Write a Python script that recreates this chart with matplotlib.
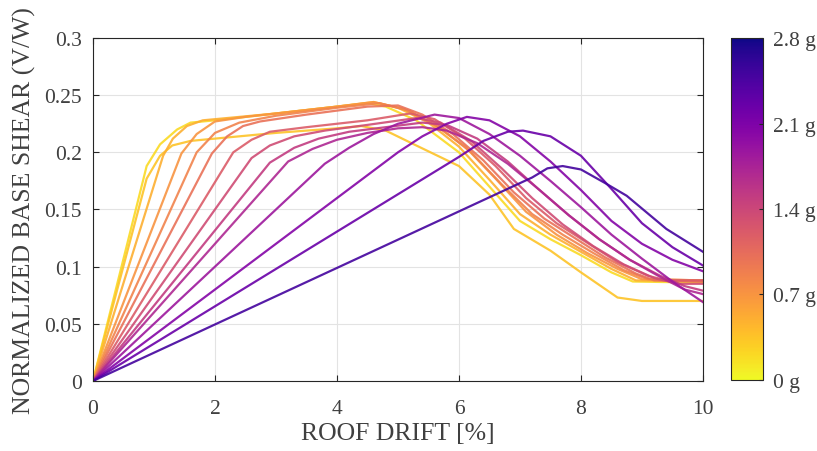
import matplotlib

matplotlib.use("Agg")
import matplotlib.pyplot as plt
from matplotlib import cm
from matplotlib.colors import Normalize

plt.rcParams["font.family"] = ["Liberation Serif", "DejaVu Serif"]

TEXT = "#404040"

# PGA of each curve [g] (sets the line colour)
pga = [0.2, 0.35, 0.5, 0.7, 0.85, 1.0, 1.2, 1.35, 1.5, 1.7, 1.85, 2.05, 2.25, 2.5]

# roof drift [%] / normalized base shear, one pair per curve
drift_00 = [0, 0.88, 1.1, 1.38, 1.6, 2.0, 3.0, 4.0, 4.5, 4.8, 5.3, 6.0, 6.5, 7.0, 7.5, 8.0, 8.5, 8.85, 10]
shear_00 = [0, 0.188, 0.207, 0.220, 0.226, 0.228, 0.234, 0.240, 0.243, 0.240, 0.228, 0.200, 0.170, 0.140, 0.124, 0.110, 0.095, 0.087, 0.086]
drift_02 = [0, 0.88, 1.1, 1.3, 1.6, 2.0, 3.0, 4.0, 4.4, 4.8, 5.3, 6.0, 6.5, 6.9, 7.5, 8.0, 8.6, 9.0, 10]
shear_02 = [0, 0.177, 0.197, 0.206, 0.210, 0.212, 0.217, 0.221, 0.223, 0.219, 0.206, 0.188, 0.163, 0.133, 0.114, 0.095, 0.073, 0.070, 0.070]
drift_04 = [0, 1.15, 1.31, 1.54, 1.8, 3.0, 4.0, 4.6, 5.0, 5.5, 6.0, 6.5, 7.0, 7.5, 8.0, 8.5, 8.9, 10]
shear_04 = [0, 0.197, 0.212, 0.223, 0.228, 0.234, 0.240, 0.244, 0.239, 0.226, 0.205, 0.176, 0.146, 0.128, 0.113, 0.098, 0.088, 0.087]
drift_06 = [0, 1.45, 1.7, 2.0, 2.5, 3.0, 4.0, 4.6, 5.1, 5.6, 6.1, 6.6, 7.1, 7.6, 8.1, 8.6, 9.0, 10]
shear_06 = [0, 0.199, 0.216, 0.227, 0.231, 0.234, 0.240, 0.244, 0.238, 0.224, 0.205, 0.177, 0.148, 0.128, 0.112, 0.098, 0.089, 0.088]
drift_08 = [0, 1.7, 2.0, 2.4, 3.0, 4.0, 4.7, 5.2, 5.7, 6.2, 6.7, 7.2, 7.7, 8.2, 8.7, 9.1, 10]
shear_08 = [0, 0.200, 0.217, 0.226, 0.232, 0.239, 0.243, 0.236, 0.221, 0.200, 0.172, 0.146, 0.128, 0.112, 0.097, 0.089, 0.088]
drift_10 = [0, 1.95, 2.2, 2.46, 2.74, 3.5, 4.5, 5.0, 5.4, 5.9, 6.4, 6.9, 7.4, 7.9, 8.4, 8.9, 9.2, 10]
shear_10 = [0, 0.199, 0.214, 0.223, 0.227, 0.233, 0.240, 0.241, 0.233, 0.216, 0.193, 0.165, 0.142, 0.125, 0.108, 0.094, 0.088, 0.087]
drift_12 = [0, 2.3, 2.6, 2.9, 3.5, 4.5, 5.2, 5.6, 6.1, 6.6, 7.1, 7.6, 8.1, 8.6, 9.1, 9.4, 10]
shear_12 = [0, 0.200, 0.211, 0.218, 0.222, 0.228, 0.234, 0.229, 0.212, 0.188, 0.160, 0.138, 0.121, 0.104, 0.092, 0.088, 0.088]
drift_14 = [0, 2.6, 2.9, 3.3, 3.8, 4.5, 5.3, 5.7, 6.2, 6.7, 7.2, 7.7, 8.2, 8.7, 9.2, 9.6, 10]
shear_14 = [0, 0.195, 0.206, 0.214, 0.219, 0.224, 0.230, 0.226, 0.210, 0.186, 0.160, 0.137, 0.118, 0.102, 0.090, 0.085, 0.085]
drift_16 = [0, 2.9, 3.3, 3.7, 4.2, 4.8, 5.4, 5.8, 6.3, 6.8, 7.3, 7.8, 8.3, 8.8, 9.3, 9.7, 10]
shear_16 = [0, 0.191, 0.204, 0.212, 0.218, 0.222, 0.226, 0.224, 0.212, 0.192, 0.168, 0.145, 0.124, 0.106, 0.092, 0.083, 0.079]
drift_18 = [0, 3.2, 3.6, 4.0, 4.5, 5.0, 5.4, 5.8, 6.3, 6.8, 7.3, 7.8, 8.3, 8.8, 9.3, 9.7, 10]
shear_18 = [0, 0.192, 0.203, 0.211, 0.217, 0.221, 0.222, 0.219, 0.208, 0.190, 0.168, 0.145, 0.124, 0.106, 0.091, 0.080, 0.076]
drift_20 = [0, 3.8, 4.2, 4.6, 5.0, 5.6, 6.0, 6.5, 7.0, 7.5, 8.0, 8.5, 9.0, 9.5, 10]
shear_20 = [0, 0.190, 0.204, 0.216, 0.225, 0.233, 0.230, 0.216, 0.197, 0.175, 0.152, 0.128, 0.107, 0.087, 0.069]
drift_22 = [0, 5.0, 5.4, 5.8, 6.13, 6.5, 7.0, 7.5, 8.0, 8.5, 9.0, 9.5, 10]
shear_22 = [0, 0.200, 0.214, 0.225, 0.231, 0.228, 0.214, 0.192, 0.167, 0.140, 0.120, 0.106, 0.096]
drift_24 = [0, 6.0, 6.4, 6.8, 7.05, 7.5, 8.0, 8.5, 9.0, 9.5, 10]
shear_24 = [0, 0.196, 0.210, 0.218, 0.219, 0.214, 0.197, 0.168, 0.138, 0.117, 0.101]
drift_26 = [0, 7.2, 7.45, 7.7, 8.0, 8.4, 8.75, 9.4, 10]
shear_26 = [0, 0.178, 0.186, 0.188, 0.185, 0.173, 0.162, 0.133, 0.113]

drifts = [drift_00, drift_02, drift_04, drift_06, drift_08, drift_10, drift_12,
          drift_14, drift_16, drift_18, drift_20, drift_22, drift_24, drift_26]
shears = [shear_00, shear_02, shear_04, shear_06, shear_08, shear_10, shear_12,
          shear_14, shear_16, shear_18, shear_20, shear_22, shear_24, shear_26]

cbar_ticks = [0, 0.7, 1.4, 2.1, 2.8]
cbar_labels = ["0 g", "0.7 g", "1.4 g", "2.1 g", "2.8 g"]

cmap = plt.get_cmap("plasma_r")
norm = Normalize(vmin=0, vmax=2.8)

fig = plt.figure(figsize=(8.17, 4.52), dpi=100)
ax = fig.add_axes([0.1138, 0.1549, 0.7466, 0.7588])

for g, x, y in zip(pga, drifts, shears):
    ax.plot(x, y, color=cmap(norm(g)), linewidth=1.6, alpha=0.9)

ax.set_xlim(0, 10)
ax.set_ylim(0, 0.3)
ax.set_xticks([0, 2, 4, 6, 8, 10])
ax.set_yticks([0, 0.05, 0.1, 0.15, 0.2, 0.25, 0.3])
ax.set_yticklabels(["0", "0.05", "0.1", "0.15", "0.2", "0.25", "0.3"])
ax.grid(True, color="#e3e3e3", linewidth=0.8)
ax.set_axisbelow(True)
ax.tick_params(direction="in", top=True, right=True, labelsize=15.5, colors="#262626",
               labelcolor=TEXT, length=4)
ax.tick_params(axis="x", pad=13)
ax.tick_params(axis="y", pad=8)
for spine in ax.spines.values():
    spine.set_color("#262626")
    spine.set_linewidth(0.8)
ax.set_xlabel("ROOF DRIFT [%]", fontsize=18.5, color=TEXT, labelpad=3)
ax.set_ylabel("NORMALIZED BASE SHEAR (V/W)", fontsize=18.5, color=TEXT, labelpad=6)

cax = fig.add_axes([0.8947, 0.1571, 0.0392, 0.7566])
sm = cm.ScalarMappable(norm=norm, cmap=cmap)
cb = fig.colorbar(sm, cax=cax, ticks=cbar_ticks)
cb.ax.set_yticklabels(cbar_labels)
cb.ax.tick_params(direction="in", labelsize=15.5, labelcolor=TEXT, colors="#262626",
                  length=3, pad=7)
cb.outline.set_edgecolor("#262626")
cb.outline.set_linewidth(0.8)

fig.savefig("out.png", dpi=100)
